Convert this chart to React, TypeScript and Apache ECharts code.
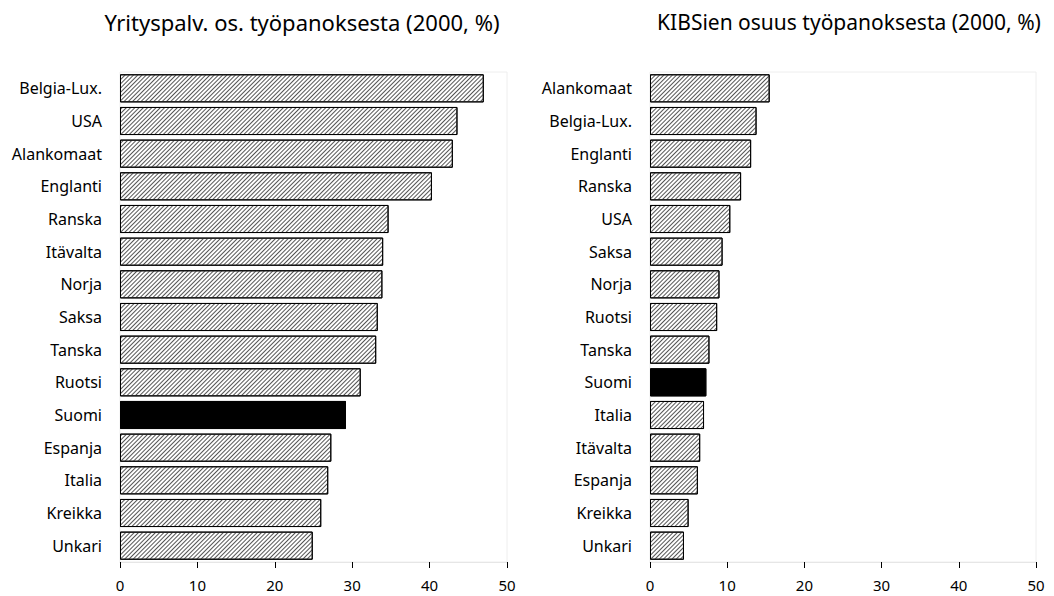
import React, { useEffect, useRef } from "react";
import * as echarts from "echarts";

const leftTitle = "Yrityspalv. os. työpanoksesta (2000, %)";
const rightTitle = "KIBSien osuus työpanoksesta (2000, %)";

const leftCategories = ["Belgia-Lux.", "USA", "Alankomaat", "Englanti", "Ranska", "Itävalta", "Norja", "Saksa", "Tanska", "Ruotsi", "Suomi", "Espanja", "Italia", "Kreikka", "Unkari"];
const leftValues = [47.0, 43.6, 43.0, 40.3, 34.7, 34.0, 33.9, 33.3, 33.1, 31.1, 29.2, 27.3, 26.9, 26.0, 24.9];

const rightCategories = ["Alankomaat", "Belgia-Lux.", "Englanti", "Ranska", "USA", "Saksa", "Norja", "Ruotsi", "Tanska", "Suomi", "Italia", "Itävalta", "Espanja", "Kreikka", "Unkari"];
const rightValues = [15.5, 13.8, 13.1, 11.8, 10.4, 9.4, 9.0, 8.7, 7.7, 7.3, 7.0, 6.5, 6.2, 5.0, 4.4];

const xTicks = { min: 0, max: 50, interval: 10 };
const highlight = "Suomi";

const FONT = "'Noto Sans', sans-serif";

const hatch = {
  symbol: "rect",
  symbolSize: 1,
  color: "#555",
  backgroundColor: "#ffffff",
  dashArrayX: [1, 0],
  dashArrayY: [1, 2],
  rotation: -Math.PI / 4,
};

function makeData(cats: string[], vals: number[]) {
  return vals.map((v, i) =>
    cats[i] === highlight
      ? { value: v, itemStyle: { color: "#000", decal: { symbol: "none" } } }
      : { value: v }
  );
}

export default function App() {
  const ref = useRef<HTMLDivElement>(null);
  useEffect(() => {
    if (!ref.current) return;
    const chart = echarts.init(ref.current, undefined, { renderer: "svg" });
    const grids = [
      { left: 120, width: 387, top: 72, bottom: 34 },
      { left: 650, width: 386, top: 72, bottom: 34 },
    ];
    const xAxisBase = (gi: number) => ({
      type: "value",
      gridIndex: gi,
      min: xTicks.min,
      max: xTicks.max,
      interval: xTicks.interval,
      axisLine: { show: true, lineStyle: { color: "#e6e6e6", width: 1 } },
      axisTick: { show: true, length: 6, lineStyle: { color: "#000" } },
      axisLabel: { color: "#000", fontSize: 15, fontFamily: FONT, margin: 15 },
      splitLine: { show: false },
    });
    const yAxisBase = (gi: number, cats: string[]) => ({
      type: "category",
      gridIndex: gi,
      data: cats,
      inverse: true,
      axisLine: { show: false },
      axisTick: { show: false },
      axisLabel: { color: "#000", fontSize: 16, fontFamily: FONT, margin: 18 },
    });
    chart.setOption({
      animation: false,
      aria: { enabled: true, decal: { show: true } },
      graphic: [
        {
          type: "text",
          x: 302,
          y: 22,
          style: { text: leftTitle, fill: "#000", font: `22px ${FONT}`, textAlign: "center", textVerticalAlign: "middle" },
        },
        {
          type: "text",
          x: 849,
          y: 22,
          style: { text: rightTitle, fill: "#000", font: `21px ${FONT}`, textAlign: "center", textVerticalAlign: "middle" },
        },
      ],
      grid: grids.map((g) => ({ ...g, show: true, borderColor: "#eeeeee", borderWidth: 1, backgroundColor: "transparent" })),
      xAxis: [xAxisBase(0), xAxisBase(1)],
      yAxis: [yAxisBase(0, leftCategories), yAxisBase(1, rightCategories)],
      series: [
        {
          type: "bar",
          xAxisIndex: 0,
          yAxisIndex: 0,
          data: makeData(leftCategories, leftValues),
          barCategoryGap: "14%",
          itemStyle: { color: "#ffffff", borderColor: "#000", borderWidth: 1, decal: hatch },
        },
        {
          type: "bar",
          xAxisIndex: 1,
          yAxisIndex: 1,
          data: makeData(rightCategories, rightValues),
          barCategoryGap: "14%",
          itemStyle: { color: "#ffffff", borderColor: "#000", borderWidth: 1, decal: hatch },
        },
      ],
    });
    return () => chart.dispose();
  }, []);
  return <div ref={ref} style={{ width: 1054, height: 596, position: "absolute", left: 0, top: 0 }} />;
}
